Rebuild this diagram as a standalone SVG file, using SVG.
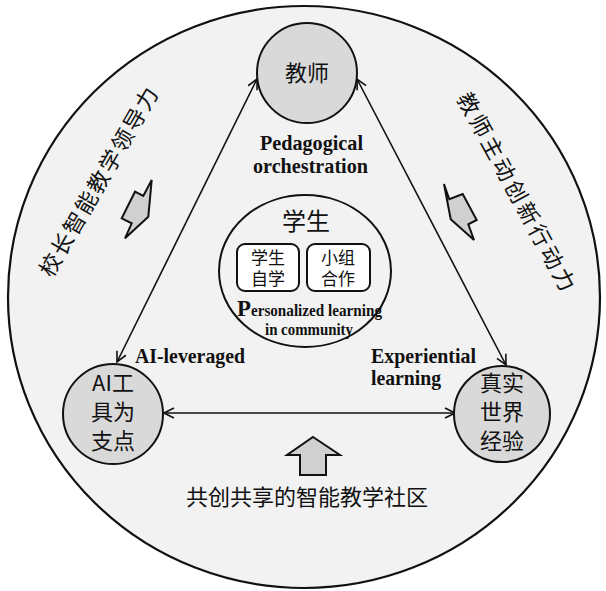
<svg xmlns="http://www.w3.org/2000/svg" width="606" height="591" viewBox="0 0 606 591">
<defs>
<marker id="arr" viewBox="0 0 12 12" refX="11" refY="6" markerWidth="12" markerHeight="12" markerUnits="userSpaceOnUse" orient="auto-start-reverse">
<path d="M1,1 L11,6 L1,11" fill="none" stroke="#111" stroke-width="1.6"/>
</marker>
<style>
.node{fill:#d9d9d9;stroke:#111;stroke-width:2}
.cn{font-family:"Noto Sans CJK SC","Noto Sans CJK JP",sans-serif;fill:#111;text-anchor:middle}
.en{font-family:"Liberation Serif","Times New Roman",serif;font-weight:bold;fill:#111}
.line{stroke:#111;stroke-width:1.6;fill:none;marker-start:url(#arr);marker-end:url(#arr)}
.blk{fill:#d0d0d0;stroke:#111;stroke-width:2;stroke-linejoin:miter}
</style>
</defs>
<rect width="606" height="591" fill="#ffffff"/>
<g id="community">
<ellipse cx="304" cy="297" rx="296" ry="291" fill="#f2f2f2" stroke="#111" stroke-width="2.2"/>
<text class="cn" x="307" y="505" font-size="22">共创共享的智能教学社区</text>
<polygon class="blk" points="313,437 340,455 326,455 326,475 300,475 300,455 287,455"/>
</g>
<g id="principal">
<text class="cn" font-size="22" letter-spacing="2" x="0" y="8" transform="translate(99,181) rotate(-60)">校长智能教学领导力</text>
<polygon class="blk" points="151.7,180 143.3,196 135,191.7 121.7,218.3 131.7,223.3 125,238.3 148.3,216.7"/>
</g>
<g id="teacher-agency">
<text class="cn" font-size="22" letter-spacing="3" x="0" y="8" transform="translate(517,193) rotate(61.5)">教师主动创新行动力</text>
<polygon class="blk" points="444,184 449.3,199.3 462.7,194 476.7,220 468.3,224.3 474,240 450.7,219.3"/>
</g>
<g id="connectors">
<line class="line" x1="117" y1="362" x2="257" y2="79"/>
<line class="line" x1="357" y1="79" x2="506" y2="365"/>
<line class="line" x1="164" y1="413" x2="455" y2="413"/>
</g>
<g id="teacher">
<circle class="node" cx="307" cy="73" r="50"/>
<text class="cn" x="307" y="81" font-size="22">教师</text>
</g>
<g id="ai-tools">
<circle class="node" cx="113" cy="414" r="50"/>
<text class="cn" font-size="22"><tspan x="113" y="391">AI工</tspan><tspan x="113" y="420">具为</tspan><tspan x="113" y="449">支点</tspan></text>
</g>
<g id="real-world">
<circle class="node" cx="502" cy="414" r="48"/>
<text class="cn" font-size="22"><tspan x="502" y="391">真实</tspan><tspan x="502" y="420">世界</tspan><tspan x="502" y="449">经验</tspan></text>
</g>
<g id="student">
<ellipse cx="305" cy="271" rx="86" ry="76" fill="#f2f2f2" stroke="#111" stroke-width="2"/>
<text class="cn" x="306" y="230" font-size="24">学生</text>
<rect x="237" y="244" width="62" height="47" rx="8" fill="#fff" stroke="#111" stroke-width="2"/>
<rect x="307" y="244" width="63" height="47" rx="8" fill="#fff" stroke="#111" stroke-width="2"/>
<text class="cn" font-size="17"><tspan x="268" y="264">学生</tspan><tspan x="268" y="285">自学</tspan></text>
<text class="cn" font-size="17"><tspan x="338" y="264">小组</tspan><tspan x="338" y="285">合作</tspan></text>
<text class="en" x="237" y="316" font-size="16" textLength="145" lengthAdjust="spacingAndGlyphs"><tspan font-size="24">P</tspan>ersonalized learning</text>
<text class="en" x="265" y="335" font-size="16" textLength="88" lengthAdjust="spacingAndGlyphs">in community</text>
</g>
<g id="labels">
<text class="en" x="260" y="150" font-size="21" textLength="103" lengthAdjust="spacingAndGlyphs">Pedagogical</text>
<text class="en" x="253" y="173" font-size="21" textLength="115" lengthAdjust="spacingAndGlyphs">orchestration</text>
<text class="en" x="135" y="363" font-size="21" textLength="110" lengthAdjust="spacingAndGlyphs">AI-leveraged</text>
<text class="en" x="371" y="363" font-size="21" textLength="105" lengthAdjust="spacingAndGlyphs">Experiential</text>
<text class="en" x="371" y="385" font-size="21" textLength="70" lengthAdjust="spacingAndGlyphs">learning</text>
</g>
</svg>
